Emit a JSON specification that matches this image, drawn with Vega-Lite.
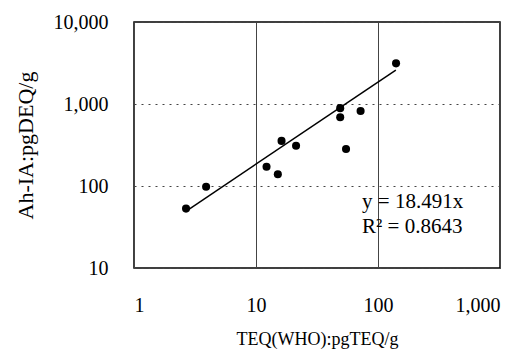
{
  "$schema": "https://vega.github.io/schema/vega-lite/v6.json",
  "width": 366,
  "height": 246,
  "autosize": "none",
  "padding": {"left": 134, "top": 22, "right": 23, "bottom": 90},
  "background": "white",
  "config": {
    "font": "Liberation Serif",
    "view": {"stroke": "black", "strokeWidth": 1.5}
  },
  "datasets": {
    "pts": [
      {"teq": 2.67, "ahia": 53},
      {"teq": 3.9, "ahia": 98},
      {"teq": 12.2, "ahia": 172},
      {"teq": 15.1, "ahia": 139},
      {"teq": 16.2, "ahia": 355},
      {"teq": 21.3, "ahia": 310},
      {"teq": 49, "ahia": 890},
      {"teq": 49, "ahia": 690},
      {"teq": 54.7, "ahia": 283},
      {"teq": 72, "ahia": 822},
      {"teq": 140.6, "ahia": 3130}
    ],
    "trend": [
      {"teq": 2.7, "ahia": 49.9},
      {"teq": 140, "ahia": 2588.7}
    ],
    "labels": [
      {"teq": 74, "ahia": 64, "txt": "y = 18.491x"},
      {"teq": 74, "ahia": 31.6, "txt": "R² = 0.8643"}
    ]
  },
  "layer": [
    {
      "data": {"name": "pts"},
      "mark": {"type": "point", "filled": true, "color": "black", "size": 65, "opacity": 1},
      "encoding": {
        "x": {
          "field": "teq", "type": "quantitative",
          "scale": {"type": "log", "domain": [1, 1000], "nice": false},
          "axis": {
            "values": [1, 10, 100, 1000], "format": ",", "ticks": false, "domain": false,
            "labelFontSize": 20, "labelPadding": 27, "labelColor": "black",
            "grid": true, "gridColor": "#444", "gridWidth": 1, "gridOpacity": 1,
            "title": "TEQ(WHO):pgTEQ/g", "titleFontSize": 18, "titleFontWeight": "normal",
            "titleColor": "black", "titlePadding": 15
          }
        },
        "y": {
          "field": "ahia", "type": "quantitative",
          "scale": {"type": "log", "domain": [10, 10000], "nice": false},
          "axis": {
            "values": [10, 100, 1000, 10000], "format": ",", "ticks": false, "domain": false,
            "labelFontSize": 20, "labelPadding": 26, "labelColor": "black",
            "grid": true, "gridColor": "#444", "gridWidth": 1, "gridDash": [2, 5], "gridOpacity": 1,
            "title": "Ah-IA:pgDEQ/g", "titleFontSize": 22, "titleFontWeight": "normal",
            "titleColor": "black", "titlePadding": 16
          }
        }
      }
    },
    {
      "data": {"name": "trend"},
      "mark": {"type": "line", "color": "black", "strokeWidth": 1.5},
      "encoding": {
        "x": {"field": "teq", "type": "quantitative"},
        "y": {"field": "ahia", "type": "quantitative"}
      }
    },
    {
      "data": {"name": "labels"},
      "mark": {"type": "text", "align": "left", "baseline": "middle", "fontSize": 21, "color": "black"},
      "encoding": {
        "x": {"field": "teq", "type": "quantitative"},
        "y": {"field": "ahia", "type": "quantitative"},
        "text": {"field": "txt"}
      }
    }
  ]
}
